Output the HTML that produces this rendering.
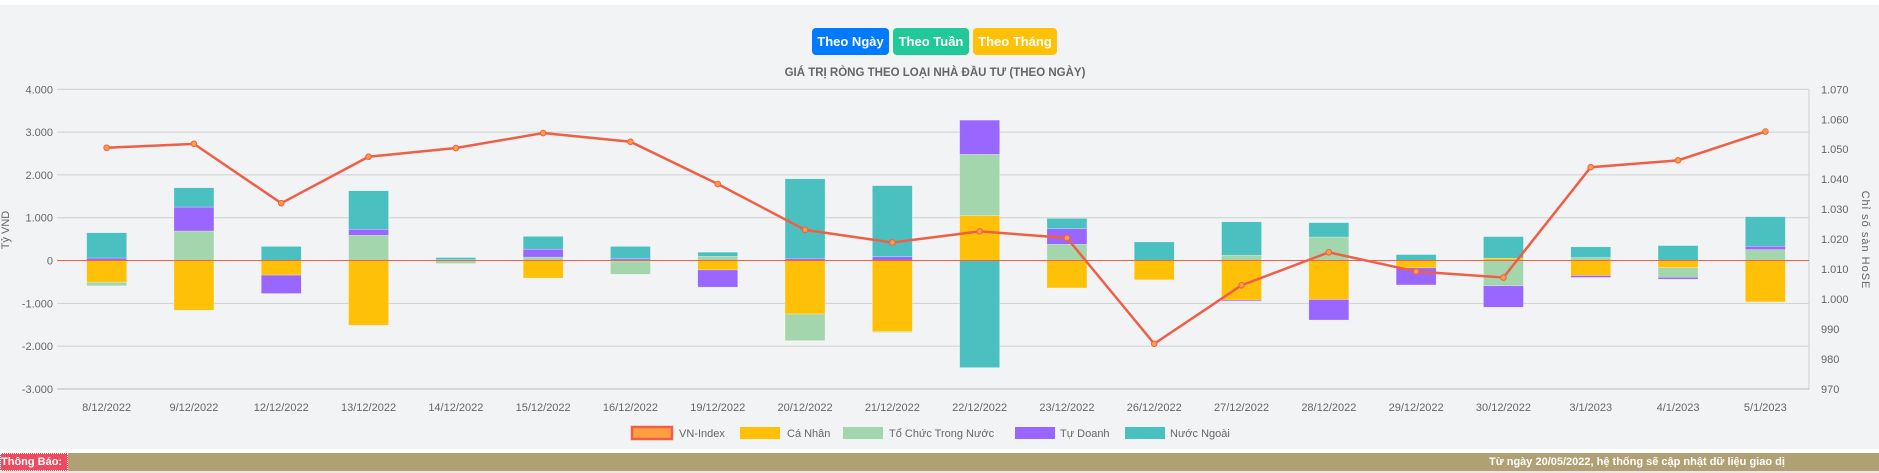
<!DOCTYPE html>
<html><head><meta charset="utf-8">
<style>
html,body{margin:0;padding:0;}
body{width:1879px;height:473px;overflow:hidden;background:#fff;font-family:"Liberation Sans",sans-serif;position:relative;}
#panel{position:absolute;left:0;top:5px;width:1879px;height:444px;background:#f2f3f5;}
.btn{position:absolute;top:28px;height:27px;border-radius:4px;color:#fff;font-size:13px;font-weight:bold;line-height:27px;text-align:center;}
#notice{position:absolute;left:0;top:453px;width:1879px;height:18px;background:#b0a074;}
#notice-label{position:absolute;left:0;top:0;width:66px;height:16px;background:#f04a5e;border:1px dotted #fff;color:#fff;font-weight:bold;font-size:11px;line-height:16px;}
#notice-text{position:absolute;left:1489px;top:0;width:296px;overflow:hidden;white-space:nowrap;color:#fff;font-weight:bold;font-size:11px;line-height:18px;}
#bottom{position:absolute;left:0;top:471px;width:1879px;height:2px;background:#e8e8e8;}
svg{position:absolute;left:0;top:0;}
</style></head>
<body>
<div id="panel"></div>
<div class="btn" style="left:812px;width:77px;background:#007bff">Theo Ngày</div>
<div class="btn" style="left:893px;width:76px;background:#20c997">Theo Tuần</div>
<div class="btn" style="left:973px;width:84px;background:#ffc107">Theo Tháng</div>
<svg id="chart" width="1879" height="453"></svg>
<div id="notice">
<div id="notice-label">Thông Báo:</div>
<div id="notice-text">Từ ngày 20/05/2022, hệ thống sẽ cập nhật dữ liệu giao dịch</div>
</div>
<div id="bottom"></div>
<script>
const categories=["8/12/2022","9/12/2022","12/12/2022","13/12/2022","14/12/2022","15/12/2022","16/12/2022","19/12/2022","20/12/2022","21/12/2022","22/12/2022","23/12/2022","26/12/2022","27/12/2022","28/12/2022","29/12/2022","30/12/2022","3/1/2023","4/1/2023","5/1/2023"];
const caNhan=[-505,-1160,-340,-1510,10,-410,-10,-220,-1250,-1660,1050,-640,-450,-925,-910,-170,55,-350,-165,-965];
const toChuc=[-85,690,0,590,-70,80,-310,100,-620,-20,1430,380,0,125,550,0,-590,70,-225,255];
const tuDoanh=[60,560,-430,140,10,185,40,-400,50,90,800,365,0,-25,-480,-400,-500,-45,-45,80];
const nuocNgoai=[590,450,330,900,50,300,290,95,1860,1660,-2500,240,435,780,335,140,505,250,350,690];
const vnIndex=[1050.5,1051.8,1032.0,1047.5,1050.4,1055.4,1052.5,1038.4,1023.1,1018.9,1022.6,1020.4,985.1,1004.6,1015.6,1009.2,1007.2,1044.0,1046.3,1055.9];
const leftTicks=[4000,3000,2000,1000,0,-1000,-2000,-3000];
const leftTickLabels=["4.000","3.000","2.000","1.000","0","-1.000","-2.000","-3.000"];
const rightTicks=[1070,1060,1050,1040,1030,1020,1010,1000,990,980,970];
const rightTickLabels=["1.070","1.060","1.050","1.040","1.030","1.020","1.010","1.000","990","980","970"];

const NS="http://www.w3.org/2000/svg";
const svg=document.getElementById('chart');
const X0=63,X1=1809,TOP=89.3,BOT=389;
const band=(X1-X0)/categories.length;
const yL=v=>TOP+(4000-v)/7000*(BOT-TOP);
const yR=v=>TOP+(1070-v)/100*(BOT-TOP);
const xC=i=>X0+band*(i+0.5);
function mk(tag,attrs,parent){const e=document.createElementNS(NS,tag);for(const k in attrs)e.setAttribute(k,attrs[k]);(parent||svg).appendChild(e);return e;}

leftTicks.forEach((t,i)=>{
  const g=mk('line',{x1:57,x2:X1,y1:yL(t),y2:yL(t),stroke:'#cfd0d2','stroke-width':1});
  
  
  const tx=mk('text',{x:53,y:yL(t)+4,'text-anchor':'end','font-size':11,fill:'#666'});
  tx.textContent=leftTickLabels[i];
  
  
});
mk('line',{x1:X1,x2:X1,y1:TOP,y2:BOT,stroke:'#cfd0d2'});
mk('line',{x1:57,x2:X1,y1:BOT,y2:BOT,stroke:'#bbb'});
rightTicks.forEach((t,i)=>{
  const tx=mk('text',{x:1821,y:yR(t)+4,'font-size':11,fill:'#666'});
  tx.textContent=rightTickLabels[i];
  
  
});
let t1=mk('text',{x:9,y:230,'font-size':11,fill:'#666','text-anchor':'middle',transform:'rotate(-90 9 230)'});
t1.textContent='Tỷ VND';


let t2=mk('text',{x:1862,y:240,'font-size':11,fill:'#666','text-anchor':'middle','letter-spacing':'1',transform:'rotate(90 1862 240)'});
t2.textContent='Chỉ số sàn HoSE';


let tt=mk('text',{x:935,y:76,'font-size':11.5,'font-weight':'bold',fill:'#666','text-anchor':'middle'});
tt.textContent='GIÁ TRỊ RÒNG THEO LOẠI NHÀ ĐẦU TƯ (THEO NGÀY)';



const series=[[caNhan,'#ffc107','ca-nhan'],[toChuc,'#a3d6ac','to-chuc'],[tuDoanh,'#9966ff','tu-doanh'],[nuocNgoai,'#4bc0c0','nuoc-ngoai']];
const bw=40;
categories.forEach((c,i)=>{
  let pos=0,neg=0;
  series.forEach(([arr,col,nm])=>{
    const v=arr[i]; if(!v)return;
    let a,b;
    if(v>0){a=pos;b=pos+v;pos=b;}else{a=neg;b=neg+v;neg=b;}
    const y1=yL(Math.max(a,b)),y2=yL(Math.min(a,b));
    const r=mk('rect',{x:xC(i)-bw/2,y:y1,width:bw,height:Math.max(y2-y1,0.5),fill:col,stroke:'rgba(255,255,255,0.5)','stroke-width':0.5});
    
    
  });
  const tx=mk('text',{x:xC(i),y:411,'font-size':11,fill:'#666','text-anchor':'middle'});
  tx.textContent=c;
  
  
});
mk('line',{x1:57,x2:X1,y1:yL(0),y2:yL(0),stroke:'#f0604a','stroke-width':1});
const pts=vnIndex.map((v,i)=>xC(i)+','+yR(v)).join(' ');
const pl=mk('polyline',{points:pts,fill:'none',stroke:'#ef5f47','stroke-width':2.5});


vnIndex.forEach((v,i)=>{
  const c=mk('circle',{cx:xC(i),cy:yR(v),r:2.8,fill:'#ff9f40',stroke:'#ef5f47','stroke-width':1});
  
  
});
const legend=[['VN-Index',632,679,'#ff9f40','#ef5f47'],['Cá Nhân',740,787,'#ffc107',null],['Tổ Chức Trong Nước',843,889,'#a3d6ac',null],['Tự Doanh',1015,1060,'#9966ff',null],['Nước Ngoài',1125,1170,'#4bc0c0',null]];
legend.forEach(([lab,bx,tx,f,s])=>{
  const r=mk('rect',{x:bx,y:427,width:40,height:12,fill:f});
  if(s){r.setAttribute('stroke',s);r.setAttribute('stroke-width',2.5);}
  
  
  const t=mk('text',{x:tx,y:437,'font-size':11,fill:'#666'});
  t.textContent=lab;
  
  
});
</script>
</body></html>
